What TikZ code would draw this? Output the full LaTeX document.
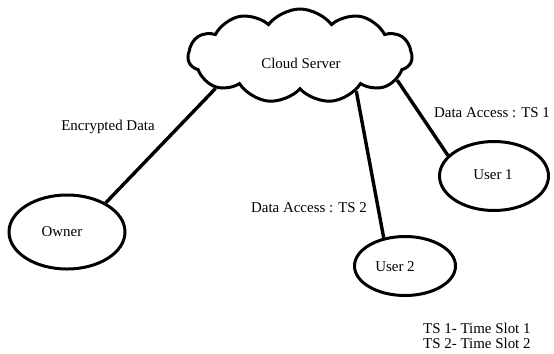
\documentclass[tikz,border=0pt]{standalone}
\usepackage{fontspec}
\setmainfont{Liberation Serif}
\usetikzlibrary{shapes,shapes.symbols,positioning}

\begin{document}
\begin{tikzpicture}[
  x=1bp, y=-1bp,                     % work in pixel-like units, y pointing down
  every node/.style={align=center,inner sep=1pt,font=\fontsize{15}{17}\selectfont},
  party/.style={draw, ellipse, line width=3bp, minimum width=116bp, minimum height=74bp},
  server/.style={draw, cloud, cloud puffs=11, cloud puff arc=105, aspect=2.4,
                 line width=3bp, minimum width=224bp, minimum height=94bp},
  link/.style={line width=3.4bp}
]
\useasboundingbox (0,0) rectangle (554,353);

% the cloud and the three parties
\node[server] (cloud) at (300,56) {};
\node (cloudtxt) at (301,63) {Cloud Server};
\node[party] (owner) at (67,232) {};
\node (ownertxt) at (62,232) {Owner};
\node[party, minimum width=109bp, minimum height=69bp] (user1) at (494,176) {};
\node (user1txt) at (493,175) {User 1};
\node[party, minimum width=101bp, minimum height=59bp] (user2) at (405,266) {};
\node (user2txt) at (395,267) {User 2};

% links to the cloud
\draw[link] (owner.37) -- (cloud.201);
\draw[link] (user2.127) -- (cloud.328);
\draw[link] (user1.156) -- (cloud.346);

% link labels
\node (enc) at (108,127) {Encrypted Data};
\node (acc1) at (492,113) {Data Access : TS 1};
\node (acc2) at (309,208) {Data Access : TS 2};

% time slot legend
\node[anchor=west] (ts1) at (422,328) {TS 1- Time Slot 1};
\node[anchor=west] (ts2) at (422,343) {TS 2- Time Slot 2};
\end{tikzpicture}
\end{document}
